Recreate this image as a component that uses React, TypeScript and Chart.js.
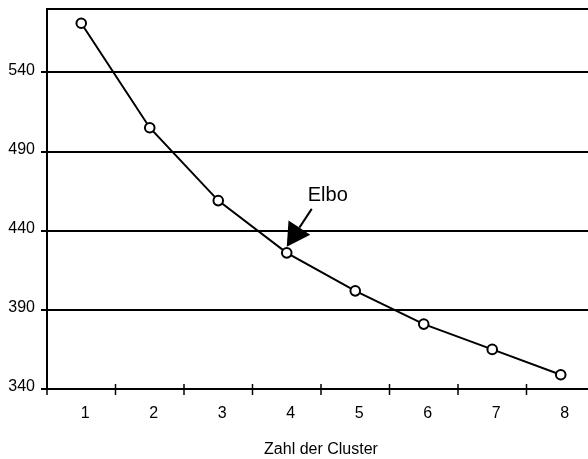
import React, { useEffect, useRef } from "react";
import { Chart, registerables } from "chart.js";

Chart.register(...registerables);

const categories = ["1", "2", "3", "4", "5", "6", "7", "8"];
const values = [571, 505, 459, 426, 402, 381, 365, 349];
const yTicks = [340, 390, 440, 490, 540];
const yMin = 340;
const yMax = 580;
const elbowIndex = 3;
const elbowLabel = "Elbo";
const xTitle = "Zahl der Cluster";

const FONT = "'Liberation Sans', Arial, sans-serif";

const framePlugin = {
  id: "frame",
  afterDraw(chart: any) {
    const { ctx, chartArea } = chart;
    const xs = chart.scales.x;
    ctx.save();
    ctx.strokeStyle = "#000";
    // top border
    ctx.lineWidth = 2;
    ctx.beginPath();
    ctx.moveTo(chartArea.left, chartArea.top);
    ctx.lineTo(chartArea.right, chartArea.top);
    ctx.stroke();
    // x tick marks at category boundaries (crossing the axis)
    ctx.lineWidth = 1.5;
    for (let i = 0; i <= categories.length; i++) {
      const px = xs.getPixelForValue(i - 0.5);
      ctx.beginPath();
      ctx.moveTo(px, chartArea.bottom - 5);
      ctx.lineTo(px, chartArea.bottom + 6);
      ctx.stroke();
    }
    // elbow annotation
    const pt = chart.getDatasetMeta(0).data[elbowIndex];
    const x = pt.x;
    const y = pt.y;
    const tipX = x;
    const tipY = y - 6;
    const tailX = x + 25;
    const tailY = y - 44;
    const dx = tailX - tipX;
    const dy = tailY - tipY;
    const len = Math.sqrt(dx * dx + dy * dy);
    const ux = dx / len;
    const uy = dy / len;
    const nx = -uy;
    const ny = ux;
    const headLen = 23;
    const halfW = 13;
    const bx = tipX + ux * headLen;
    const by = tipY + uy * headLen;
    ctx.lineWidth = 2;
    ctx.beginPath();
    ctx.moveTo(bx, by);
    ctx.lineTo(tailX, tailY);
    ctx.stroke();
    ctx.fillStyle = "#000";
    ctx.beginPath();
    ctx.moveTo(tipX, tipY);
    ctx.lineTo(bx + nx * halfW, by + ny * halfW);
    ctx.lineTo(bx - nx * halfW, by - ny * halfW);
    ctx.closePath();
    ctx.fill();
    ctx.font = `20px ${FONT}`;
    ctx.textAlign = "left";
    ctx.textBaseline = "middle";
    ctx.fillText(elbowLabel, x + 21, y - 57);
    ctx.restore();
  },
};

export default function App() {
  const ref = useRef<HTMLCanvasElement | null>(null);

  useEffect(() => {
    if (!ref.current) return;
    const chart = new Chart(ref.current, {
      type: "line",
      data: {
        labels: categories,
        datasets: [
          {
            data: values,
            borderColor: "#000",
            borderWidth: 2,
            tension: 0,
            pointRadius: 4.8,
            pointBorderWidth: 2,
            pointBackgroundColor: "#fff",
            pointBorderColor: "#000",
          },
        ],
      },
      options: {
        animation: false,
        responsive: false,
        events: [],
        layout: { padding: { top: 9, right: 15, left: 0, bottom: 0 } },
        plugins: {
          legend: { display: false },
          tooltip: { enabled: false },
          title: { display: false },
        },
        scales: {
          x: {
            type: "category",
            offset: true,
            grid: { display: false, offset: true },
            border: { display: true, color: "#000", width: 2 },
            ticks: {
              color: "#000",
              font: { family: FONT, size: 16 },
              padding: 7,
              labelOffset: 4,
              maxRotation: 0,
              autoSkip: false,
            },
            title: {
              display: true,
              text: xTitle,
              color: "#000",
              font: { family: FONT, size: 16 },
              padding: { top: 0, bottom: 0 },
            },
            afterFit(scale: any) {
              scale.height = 70;
              scale.paddingLeft = 0;
              scale.paddingRight = 0;
            },
          },
          y: {
            min: yMin,
            max: yMax,
            grid: {
              color: "#000",
              lineWidth: 2,
              drawTicks: true,
              tickLength: 6,
            },
            border: { display: true, color: "#000", width: 2 },
            ticks: {
              color: "#000",
              font: { family: FONT, size: 16 },
              padding: 6,
              labelOffset: -2,
              includeBounds: false,
              stepSize: 50,
            },
            afterBuildTicks(scale: any) {
              scale.ticks = yTicks.map((v) => ({ value: v }));
            },
            afterFit(scale: any) {
              scale.width = 47;
              scale.paddingTop = 0;
              scale.paddingBottom = 0;
            },
          },
        },
      },
      plugins: [framePlugin],
    });
    return () => chart.destroy();
  }, []);

  return (
    <div
      style={{
        position: "fixed",
        left: 0,
        top: 0,
        width: 588,
        height: 459,
        overflow: "hidden",
        background: "#fff",
      }}
    >
      <canvas ref={ref} width={610} height={459} style={{ display: "block" }} />
    </div>
  );
}
